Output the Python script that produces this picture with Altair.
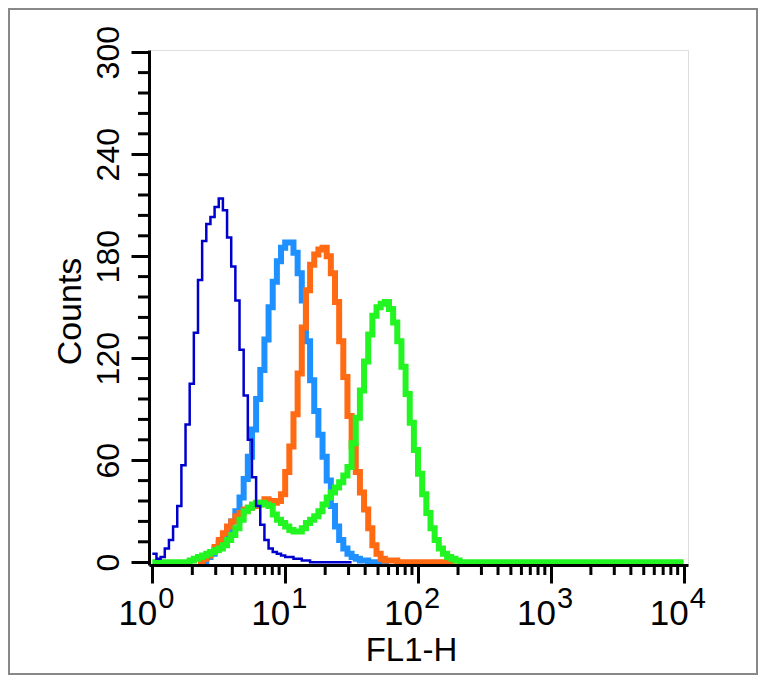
import altair as alt
import pandas as pd

# ---- data (counts per histogram channel, 32 channels per decade, channel 0 starts at 10^0) ----
BINS_PER_DECADE = 32
N_BINS = 128

dark_blue_start = 0
dark_blue = [5, 2, 3, 8, 13, 21, 33, 57, 81, 105, 135, 166, 189, 199, 203, 209, 214, 207,
             191, 174, 154, 125, 98, 72, 50, 33, 22, 13, 8, 6, 5, 4, 3, 3, 2, 2, 1, 1,
             0, 0, 0, 0, 0, 0, 0, 0, 0, 0]

light_blue_start = 12
light_blue = [0, 3, 5, 8, 11, 14, 19, 24, 30, 38, 49, 62, 78, 96, 113, 131, 150, 165, 177, 185,
              188, 188, 182, 170, 154, 130, 107, 89, 75, 62, 48, 33, 21, 13, 8, 5, 3, 2, 1, 1,
              0, 0, 0, 0, 0]

orange_start = 11
orange = [0, 2, 4, 6, 9, 13, 17, 21, 24, 27, 29, 31, 32, 33, 34, 35, 37, 36, 35, 36, 40, 53, 68,
          87, 111, 138, 160, 175, 181, 184, 185, 180, 170, 153, 130, 109, 86, 68, 53, 41, 31,
          20, 10, 5, 2, 1, 1, 1, 0, 0, 0, 0, 0, 0, 0, 0, 0, 0, 0, 0, 0, 0]

green_start = 0
green = [0, 0, 0, 0, 0, 0, 0, 0, 0,
         1, 2, 3, 4, 5, 6, 7, 8, 10, 13, 16, 20, 25, 30, 32, 34, 35, 35, 34, 33, 28, 25, 23,
         21, 19, 18, 18, 20, 23, 25, 27, 30, 34, 38, 41, 44, 47, 51, 56, 70, 85, 101, 118, 134,
         145, 150, 152, 153, 149, 141, 130, 115, 99, 82, 66, 52, 40, 29, 20, 13, 8, 5, 3, 2, 1]

y_major = [0, 60, 120, 180, 240, 300]
y_minor = [12, 24, 36, 48, 72, 84, 96, 108, 132, 144, 156, 168, 192, 204, 216, 228,
           252, 264, 276, 288]
x_decades = [1, 10, 100, 1000, 10000]
x_base_labels = ["10", "10", "10", "10", "10"]
x_exp_labels = ["0", "1", "2", "3", "4"]
x_minor_mantissa = [2, 3, 4, 5, 6, 7, 8, 9]
x_minor_decades = [1, 10, 100, 1000]

# (name, first channel, counts, colour, line width, channel where the trace ends)
series_order = [
    ("light blue", light_blue_start, light_blue, "#1E90FF", 6),
    ("orange", orange_start, orange, "#FF6A13", 6),
    ("green", green_start, green, "#22F522", 6),
    ("dark blue", dark_blue_start, dark_blue, "#0000CD", 2.5),
]
full_range = {"green": True}

FONT = "Liberation Sans"
W, H = 539, 515

x_scale = alt.Scale(type="log", domain=[0.944, 10765], nice=False)
y_scale = alt.Scale(domain=[-1.65, 301.3], nice=False, zero=False)

x_axis = alt.Axis(values=x_decades, labels=False, tickSize=18, tickWidth=3, tickColor="black",
                  domainWidth=3, domainColor="black", grid=False, title="FL1-H",
                  titleFont=FONT, titleFontSize=33, titleFontWeight="normal", titleColor="black",
                  titleX=262, titleY=95, titleAlign="center", titleBaseline="alphabetic",
                  titleAnchor="start", zindex=1)
y_axis = alt.Axis(values=y_major, tickSize=18, tickWidth=3, tickColor="black",
                  domainWidth=3, domainColor="black", grid=False, labelAngle=270,
                  labelAlign="center", labelBaseline="alphabetic", labelPadding=13,
                  labelFont=FONT, labelFontSize=32, labelColor="black", labelFlush=False,
                  labelOverlap=False, title="Counts", titleFont=FONT, titleFontSize=34,
                  titleFontWeight="normal", titleColor="black", titleAngle=270,
                  titleX=-69, titleY=261, titleAlign="center", titleBaseline="alphabetic",
                  titleAnchor="start", zindex=1)

layers = []
for name, start, vals, color, sw in series_order:
    counts = list(vals)
    if full_range.get(name):
        counts = counts + [0] * (N_BINS + 1 - start - len(counts))
    else:
        counts = counts + [0]
    df = pd.DataFrame({
        "x": [10 ** ((start + i) / BINS_PER_DECADE) for i in range(len(counts))],
        "count": counts,
    })
    layers.append(
        alt.Chart(df).mark_line(interpolate="step-after", color=color, strokeWidth=sw,
                                strokeJoin="miter").encode(
            x=alt.X("x:Q", scale=x_scale, axis=x_axis),
            y=alt.Y("count:Q", scale=y_scale, axis=y_axis),
        )
    )

# minor ticks
ym = alt.Chart(pd.DataFrame({"v": y_minor})).mark_rule(color="black", strokeWidth=3).encode(
    y=alt.Y("v:Q", scale=y_scale, axis=y_axis),
    x=alt.value(-11), x2=alt.value(0),
)
xm_vals = [m * d for d in x_minor_decades for m in x_minor_mantissa]
xm = alt.Chart(pd.DataFrame({"v": xm_vals})).mark_rule(color="black", strokeWidth=3).encode(
    x=alt.X("v:Q", scale=x_scale, axis=x_axis),
    y=alt.value(H), y2=alt.value(H + 10),
)

lab_df = pd.DataFrame({"v": x_decades, "base": x_base_labels, "exp": x_exp_labels})
base_txt = alt.Chart(lab_df).mark_text(align="right", baseline="alphabetic", dx=5,
                                       font=FONT, fontSize=35, color="black").encode(
    x=alt.X("v:Q", scale=x_scale, axis=x_axis), y=alt.value(574.5), text="base:N")
exp_txt = alt.Chart(lab_df).mark_text(align="left", baseline="alphabetic", dx=6,
                                      font=FONT, fontSize=29, color="black").encode(
    x=alt.X("v:Q", scale=x_scale, axis=x_axis), y=alt.value(557.5), text="exp:N")

border = alt.Chart(pd.DataFrame({"a": [0]})).mark_rect(fill=None, stroke="#888888",
                                                       strokeWidth=2).encode(
    x=alt.value(-140), x2=alt.value(W + 69), y=alt.value(-41), y2=alt.value(H + 109))

chart = alt.layer(*layers, ym, xm, base_txt, exp_txt, border).properties(
    width=W, height=H,
    padding={"left": 141, "top": 42, "right": 70, "bottom": 110},
    autosize=alt.AutoSizeParams(type="none"),
).configure_view(stroke="black", strokeWidth=3).configure(background="white")

chart.save("out.html", embed_options={"renderer": "svg", "actions": False})
